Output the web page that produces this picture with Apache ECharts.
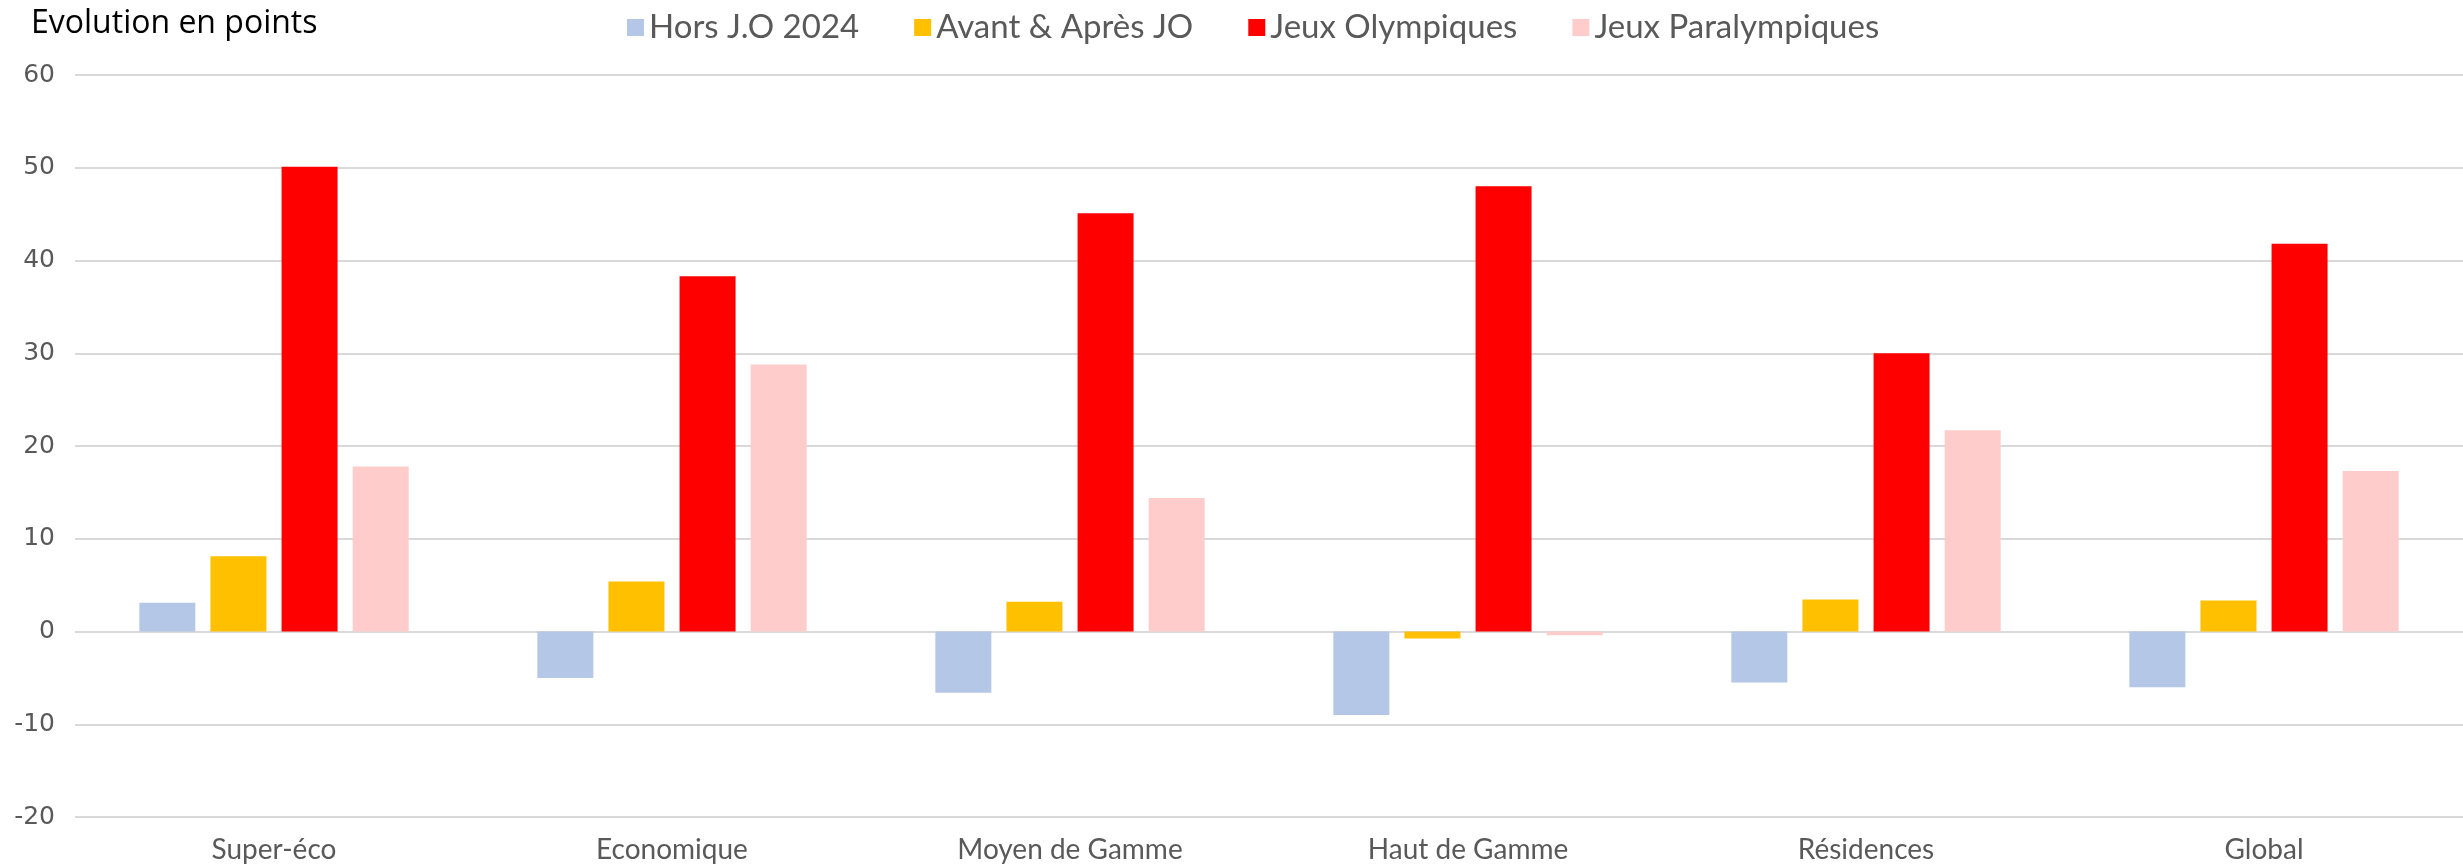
<!DOCTYPE html>
<html>
<head>
<meta charset="utf-8">
<script src="https://cdn.jsdelivr.net/npm/echarts@6/dist/echarts.min.js"></script>
<style>
  html, body { margin: 0; padding: 0; background: #fff; }
  #chart { width: 2463px; height: 868px; }
</style>
</head>
<body>
<div id="chart"></div>
<script>
const categories = ['Super-éco', 'Economique', 'Moyen de Gamme', 'Haut de Gamme', 'Résidences', 'Global'];
const horsJO = [3.1, -5.0, -6.6, -9.0, -5.5, -6.0];
const avantApres = [8.1, 5.4, 3.2, -0.75, 3.45, 3.35];
const jeuxOlympiques = [50.1, 38.3, 45.1, 48.0, 30.0, 41.8];
const jeuxParalympiques = [17.8, 28.8, 14.4, -0.4, 21.7, 17.3];
const yTicks = [-20, -10, 0, 10, 20, 30, 40, 50, 60];

const myChart = echarts.init(document.getElementById('chart'));

const grey = '#595959';
const thinFont = 'Lato';

function bar(name, data, color) {
  return {
    name: name,
    type: 'bar',
    data: data,
    barWidth: 56,
    barGap: '27%',
    itemStyle: { color: color }
  };
}

const option = {
  animation: false,
  backgroundColor: '#fff',
  title: {
    text: 'Evolution en points',
    left: 26,
    top: 3,
    textStyle: {
      fontFamily: 'Open Sans',
      fontWeight: 'normal',
      fontSize: 32,
      color: '#000'
    }
  },
  legend: {
    left: 622,
    top: 6,
    itemWidth: 17,
    itemHeight: 17,
    itemGap: 55,
    icon: 'rect',
    textStyle: {
      fontFamily: thinFont,
      fontWeight: 'normal',
      fontSize: 33,
      color: grey
    }
  },
  grid: {
    left: 75,
    right: 0,
    top: 75,
    bottom: 51
  },
  xAxis: {
    type: 'category',
    data: categories,
    axisTick: { show: false },
    axisLine: { show: false },
    axisLabel: {
      margin: 19,
      fontFamily: thinFont,
      fontWeight: 'normal',
      fontSize: 28,
      color: grey
    }
  },
  yAxis: {
    type: 'value',
    min: yTicks[0],
    max: yTicks[yTicks.length - 1],
    interval: 10,
    axisLine: { show: false },
    axisTick: { show: false },
    splitLine: { lineStyle: { color: '#d9d9d9', width: 2 } },
    axisLabel: {
      margin: 20,
      fontFamily: 'DejaVu Sans',
      fontSize: 25,
      color: grey
    }
  },
  series: [
    bar('Hors J.O 2024', horsJO, '#b4c7e7'),
    bar('Avant & Après JO', avantApres, '#ffc000'),
    bar('Jeux Olympiques', jeuxOlympiques, '#ff0000'),
    bar('Jeux Paralympiques', jeuxParalympiques, '#ffcccc')
  ]
};

myChart.setOption(option);
window.addEventListener('resize', myChart.resize);
</script>
</body>
</html>
